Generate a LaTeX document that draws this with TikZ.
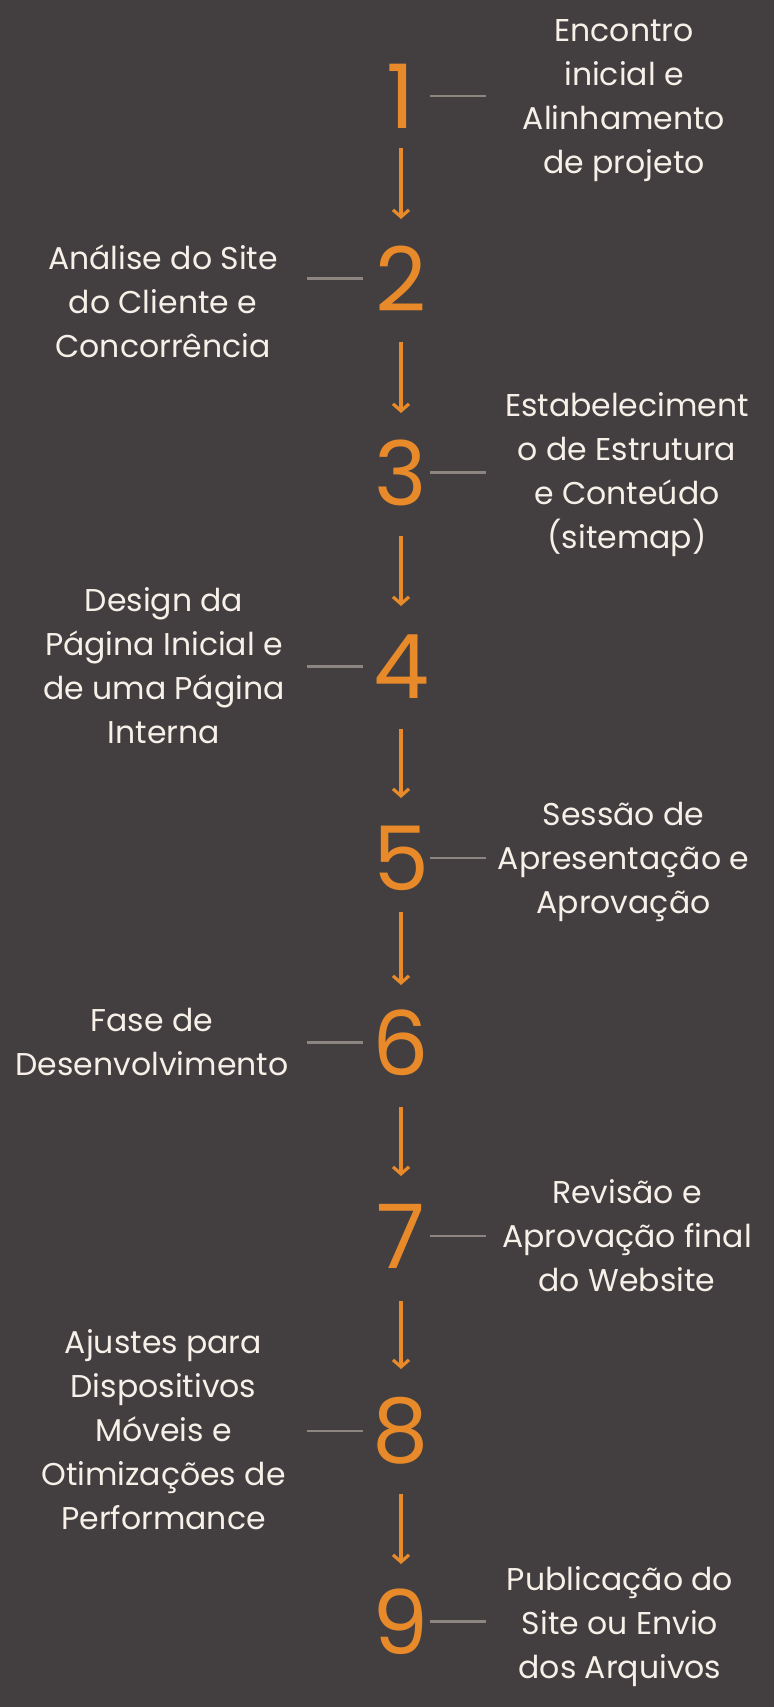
\documentclass[tikz,border=0pt]{standalone}
\usepackage{fontspec}
\setmainfont{Poppins}
\usetikzlibrary{arrows.meta,calc}
\definecolor{bg}{HTML}{433F40}
\definecolor{org}{HTML}{E8892A}
\definecolor{txt}{HTML}{F7F0E9}
\definecolor{ln}{HTML}{8D8680}
\newcommand{\ml}[1]{\begin{tabular}[t]{@{}c@{}}#1\end{tabular}}
\begin{document}
\begin{tikzpicture}[x=1pt,y=-1pt,
  num/.style={inner sep=0pt, text=org, font=\fontsize{89}{89}\selectfont},
  lbl/.style={inner sep=0pt, anchor=base, text=txt, font=\fontsize{31.5}{44}\selectfont},
  arr/.style={draw=org, line width=3.2pt, -{Straight Barb[length=7pt,width=16pt]}},
  tick/.style={draw=ln, line width=2.2pt}]
\fill[bg] (0,0) rectangle (774,1707);
\useasboundingbox (0,0) rectangle (774,1707);

% numbers
\node[num] (n1) at (401,96) {1};
\node[num] (n2) at (401,278.5) {2};
\node[num] (n3) at (401,472.5) {3};
\node[num] (n4) at (401,666.5) {4};
\node[num] (n5) at (401,858) {5};
\node[num] (n6) at (401,1042.5) {6};
\node[num] (n7) at (401,1236) {7};
\node[num] (n8) at (401,1431) {8};
\node[num] (n9) at (401,1621.5) {9};

% labels
\node[lbl] (t1) at (624,41.7) {\ml{Encontro\\inicial e\\Alinhamento\\de projeto}};
\node[lbl] (t2) at (163,269) {\ml{Análise do Site\\do Cliente e\\Concorrência}};
\node[lbl] (t3) at (627,416.7) {\ml{Estabeleciment\\o de Estrutura\\e Conteúdo\\(sitemap)}};
\node[lbl] (t4) at (164,611.7) {\ml{Design da\\Página Inicial e\\de uma Página\\Interna}};
\node[lbl] (t5) at (623.5,825) {\ml{Sessão de\\Apresentação e\\Aprovação}};
\node[lbl] (t6) at (152,1031.7) {\ml{Fase de\\Desenvolvimento}};
\node[lbl] (t7) at (627,1203) {\ml{Revisão e\\Aprovação final\\do Website}};
\node[lbl] (t8) at (163.5,1353) {\ml{Ajustes para\\Dispositivos\\Móveis e\\Otimizações de\\Performance}};
\node[lbl] (t9) at (620,1590) {\ml{Publicação do\\Site ou Envio\\dos Arquivos}};

% ticks
\foreach \n in {n1,n3,n5,n7,n9}
  \draw[tick] ($(\n.center)+(29,0)$) -- ($(\n.center)+(85,0)$);
\foreach \n in {n2,n4,n6,n8}
  \draw[tick] ($(\n.center)+(-94,0)$) -- ($(\n.center)+(-38,0)$);

% arrows
\draw[arr, shorten <=52pt, shorten >=59.5pt] (n1.center) -- (n2.center);
\draw[arr, shorten <=63.5pt, shorten >=59.5pt] (n2.center) -- (n3.center);
\draw[arr, shorten <=63pt, shorten >=60.5pt] (n3.center) -- (n4.center);
\draw[arr, shorten <=62.5pt, shorten >=60pt] (n4.center) -- (n5.center);
\draw[arr, shorten <=54pt, shorten >=57.5pt] (n5.center) -- (n6.center);
\draw[arr, shorten <=64.5pt, shorten >=60pt] (n6.center) -- (n7.center);
\draw[arr, shorten <=65pt, shorten >=62pt] (n7.center) -- (n8.center);
\draw[arr, shorten <=63pt, shorten >=57.5pt] (n8.center) -- (n9.center);
\end{tikzpicture}
\end{document}
